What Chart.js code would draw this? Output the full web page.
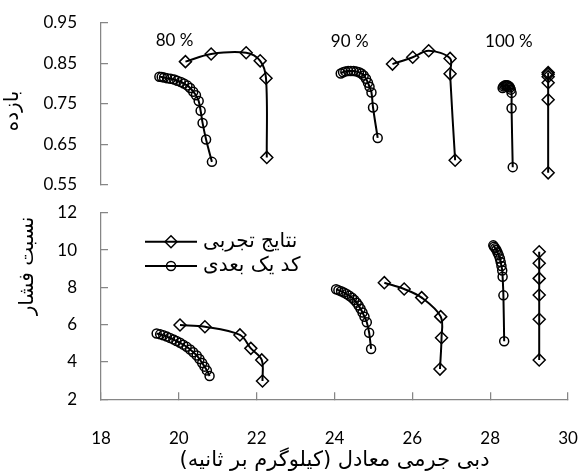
<!DOCTYPE html>
<html>
<head>
<meta charset="utf-8">
<script src="https://cdn.jsdelivr.net/npm/chart.js@4.4.1/dist/chart.umd.min.js"></script>
<style>
  html, body { margin: 0; padding: 0; background: #fff; }
  #wrap { position: relative; width: 580px; height: 474px; }
  canvas { position: absolute; left: 0; }
  #effChart { top: 0; }
  #prChart { top: 200px; }
</style>
</head>
<body>
<div id="wrap">
  <canvas id="effChart" width="580" height="200"></canvas>
  <canvas id="prChart" width="580" height="274"></canvas>
</div>
<script>
// axis ticks
const flowTicks = [18, 20, 22, 24, 26, 28, 30];
const effTicks = [0.55, 0.65, 0.75, 0.85, 0.95];
const prTicks = [2, 4, 6, 8, 10, 12];

// texts
const xTitle = 'دبی جرمی معادل (کیلوگرم بر ثانیه)\u200F';
const effTitle = 'بازده';
const prTitle = 'نسبت فشار';
const legendLabels = ['نتایج تجربی', 'کد یک بعدی'];
const speedLabels = ['80 %', '90 %', '100 %'];
const speedLabelX = [19.89, 24.39, 28.48];
const speedLabelY = [0.906, 0.903, 0.903];

// efficiency panel - experiment (diamonds)
const effExp80X = [20.17, 20.83, 21.73, 22.09, 22.24, 22.26];
const effExp80Y = [0.854, 0.873, 0.876, 0.856, 0.813, 0.618];
const effExp90X = [25.49, 26.01, 26.42, 26.97, 26.97, 27.10];
const effExp90Y = [0.848, 0.865, 0.881, 0.862, 0.824, 0.611];
const effExp100X = [29.49, 29.49, 29.49, 29.49, 29.49, 29.49];
const effExp100Y = [0.827, 0.823, 0.817, 0.802, 0.760, 0.580];

// efficiency panel - 1D code (circles)
const effCode80X = [19.50, 19.56, 19.62, 19.70, 19.79, 19.88, 19.96, 20.05, 20.13, 20.22, 20.29, 20.37, 20.44, 20.51, 20.56, 20.61, 20.70, 20.85];
const effCode80Y = [0.817, 0.816, 0.815, 0.813, 0.812, 0.810, 0.807, 0.804, 0.800, 0.795, 0.789, 0.780, 0.771, 0.757, 0.733, 0.703, 0.662, 0.607];
const effCode90X = [24.16, 24.22, 24.28, 24.35, 24.42, 24.49, 24.56, 24.63, 24.69, 24.75, 24.81, 24.86, 24.90, 24.95, 24.99, 25.11];
const effCode90Y = [0.825, 0.828, 0.830, 0.831, 0.831, 0.831, 0.830, 0.828, 0.825, 0.820, 0.812, 0.802, 0.792, 0.778, 0.741, 0.666];
const effCode100X = [28.32, 28.34, 28.37, 28.40, 28.43, 28.46, 28.49, 28.51, 28.53, 28.55, 28.55, 28.58];
const effCode100Y = [0.789, 0.793, 0.795, 0.796, 0.796, 0.795, 0.793, 0.790, 0.785, 0.777, 0.739, 0.594];

// pressure ratio panel - experiment (diamonds)
const prExp80X = [20.03, 20.67, 21.57, 21.85, 22.13, 22.15];
const prExp80Y = [5.98, 5.89, 5.45, 4.73, 4.11, 2.98];
const prExp90X = [25.28, 25.79, 26.24, 26.73, 26.75, 26.71];
const prExp90Y = [8.25, 7.91, 7.45, 6.43, 5.30, 3.62];
const prExp100X = [29.26, 29.26, 29.26, 29.26, 29.26, 29.26];
const prExp100Y = [9.91, 9.29, 8.48, 7.59, 6.29, 4.11];

// pressure ratio panel - 1D code (circles)
const prCode80X = [19.43, 19.52, 19.60, 19.69, 19.77, 19.86, 19.94, 20.03, 20.11, 20.20, 20.29, 20.37, 20.46, 20.53, 20.60, 20.66, 20.72, 20.79];
const prCode80Y = [5.53, 5.48, 5.43, 5.36, 5.29, 5.21, 5.12, 5.03, 4.93, 4.81, 4.67, 4.52, 4.35, 4.16, 3.95, 3.75, 3.55, 3.25];
const prCode90X = [24.04, 24.10, 24.17, 24.24, 24.31, 24.38, 24.45, 24.51, 24.57, 24.62, 24.67, 24.72, 24.77, 24.83, 24.89, 24.94];
const prCode90Y = [7.90, 7.85, 7.79, 7.72, 7.64, 7.55, 7.44, 7.32, 7.18, 7.03, 6.85, 6.65, 6.42, 6.13, 5.57, 4.70];
const prCode100X = [28.08, 28.10, 28.13, 28.16, 28.19, 28.22, 28.25, 28.27, 28.29, 28.31, 28.32, 28.34, 28.36];
const prCode100Y = [10.25, 10.18, 10.10, 10.00, 9.87, 9.72, 9.55, 9.36, 9.14, 8.90, 8.57, 7.57, 5.11];

const AXIS = '#868686';
const tickFont = { family: 'Lato, "DejaVu Sans", sans-serif', size: 17 };
const faFont = '"DejaVu Sans", sans-serif';

const pts = (xs, ys) => xs.map((x, i) => ({ x, y: ys[i] }));

function expSet(xs, ys) {
    return {
        data: pts(xs, ys), showLine: true, tension: 0.35,
        borderColor: '#000', borderWidth: 2,
        pointStyle: 'rectRot', pointRadius: 6, pointBorderWidth: 1.5,
        pointBorderColor: '#000', pointBackgroundColor: 'rgba(0,0,0,0)'
    };
}

function codeSet(xs, ys) {
    return {
        data: pts(xs, ys), showLine: true, tension: 0.35,
        borderColor: '#000', borderWidth: 2,
        pointStyle: 'circle', pointRadius: 4.5, pointBorderWidth: 1.5,
        pointBorderColor: '#000', pointBackgroundColor: 'rgba(0,0,0,0)'
    };
}

function yAxis(min, max, tickVals, fmt) {
    return {
        type: 'linear', min, max,
        afterBuildTicks: s => { s.ticks = tickVals.map(v => ({ value: v })); },
        // fixed width; the big label padding must not eat into the plot height
        afterFit: s => { s.width = 101; s.paddingTop = 0; s.paddingBottom = 0; },
        border: { color: AXIS, width: 1.25 },
        grid: { drawOnChartArea: false, tickLength: -7, color: AXIS, lineWidth: 1.25 },
        ticks: { padding: 31, font: tickFont, color: '#000', callback: fmt }
    };
}

// axis titles, speed labels and the legend are drawn here
const panelText = {
    id: 'panelText',
    afterDraw(chart, args, opts) {
        const { ctx, chartArea, scales } = chart;
        ctx.save();
        ctx.fillStyle = '#000';

        const t = opts.yTitle;
        ctx.save();
        ctx.translate(t.x, t.y);
        ctx.rotate(-Math.PI / 2);
        ctx.font = `${t.size}px ${faFont}`;
        ctx.textAlign = 'center';
        ctx.textBaseline = 'middle';
        ctx.fillText(t.text, 0, 0);
        ctx.restore();

        if (opts.speeds) {
            ctx.font = `17px ${tickFont.family}`;
            ctx.textAlign = 'center';
            ctx.textBaseline = 'middle';
            speedLabels.forEach((s, i) => {
                ctx.fillText(s, scales.x.getPixelForValue(speedLabelX[i]), scales.y.getPixelForValue(speedLabelY[i]));
            });
        }

        if (opts.legend) {
            const lg = opts.legend;
            const styles = ['rectRot', 'circle'];
            const radii = [6, 4.5];
            legendLabels.forEach((txt, i) => {
                const x0 = chartArea.left + lg.dx;
                const y = chartArea.top + lg.dy + i * lg.gap;
                ctx.strokeStyle = '#000';
                ctx.lineWidth = 2;
                ctx.beginPath();
                ctx.moveTo(x0, y);
                ctx.lineTo(x0 + lg.len, y);
                ctx.stroke();
                ctx.lineWidth = 1.5;
                ctx.fillStyle = 'rgba(0,0,0,0)';
                Chart.helpers.drawPoint(ctx, { pointStyle: styles[i], radius: radii[i], borderWidth: 1.5 }, x0 + lg.len / 2, y);
                ctx.fillStyle = '#000';
                ctx.font = `${lg.size}px ${faFont}`;
                ctx.textAlign = 'left';
                ctx.textBaseline = 'middle';
                ctx.fillText(txt, x0 + lg.len + 6, y);
            });
        }
        ctx.restore();
    }
};

Chart.defaults.color = '#000';

new Chart(document.getElementById('effChart'), {
    type: 'scatter',
    data: {
        datasets: [
            expSet(effExp80X, effExp80Y), codeSet(effCode80X, effCode80Y),
            expSet(effExp90X, effExp90Y), codeSet(effCode90X, effCode90Y),
            expSet(effExp100X, effExp100Y), codeSet(effCode100X, effCode100Y)
        ]
    },
    options: {
        responsive: false,
        animation: false,
        layout: { padding: { left: 0, right: 12, top: 22.7, bottom: 15 } },
        scales: {
            x: { type: 'linear', min: 18, max: 30, display: false },
            y: yAxis(0.55, 0.95, effTicks, v => v.toFixed(2))
        },
        plugins: {
            legend: { display: false },
            tooltip: { enabled: false },
            panelText: { yTitle: { text: effTitle, x: 13, y: 111, size: 20 }, speeds: true }
        }
    },
    plugins: [panelText]
});

new Chart(document.getElementById('prChart'), {
    type: 'scatter',
    data: {
        datasets: [
            expSet(prExp80X, prExp80Y), codeSet(prCode80X, prCode80Y),
            expSet(prExp90X, prExp90Y), codeSet(prCode90X, prCode90Y),
            expSet(prExp100X, prExp100Y), codeSet(prCode100X, prCode100Y)
        ]
    },
    options: {
        responsive: false,
        animation: false,
        layout: { padding: { left: 0, right: 12, top: 12.7, bottom: 0 } },
        scales: {
            x: {
                type: 'linear', min: 18, max: 30,
                afterBuildTicks: s => { s.ticks = flowTicks.map(v => ({ value: v })); },
                afterFit: s => { s.height = 74.7; s.paddingLeft = 0; s.paddingRight = 0; },
                border: { color: AXIS, width: 1.25 },
                grid: { drawOnChartArea: false, tickLength: -7, color: AXIS, lineWidth: 1.25 },
                ticks: { padding: 36, font: tickFont, color: '#000', autoSkip: false, maxRotation: 0 },
                title: { display: true, text: xTitle, font: { family: faFont, size: 21 }, color: '#000', padding: { top: 0, bottom: 1 } }
            },
            y: yAxis(2, 12, prTicks, v => String(v))
        },
        plugins: {
            legend: { display: false },
            tooltip: { enabled: false },
            panelText: {
                yTitle: { text: prTitle, x: 28, y: 66, size: 20 },
                legend: { dx: 44, dy: 29, gap: 24.3, len: 52, size: 20 }
            }
        }
    },
    plugins: [panelText]
});
</script>
</body>
</html>
